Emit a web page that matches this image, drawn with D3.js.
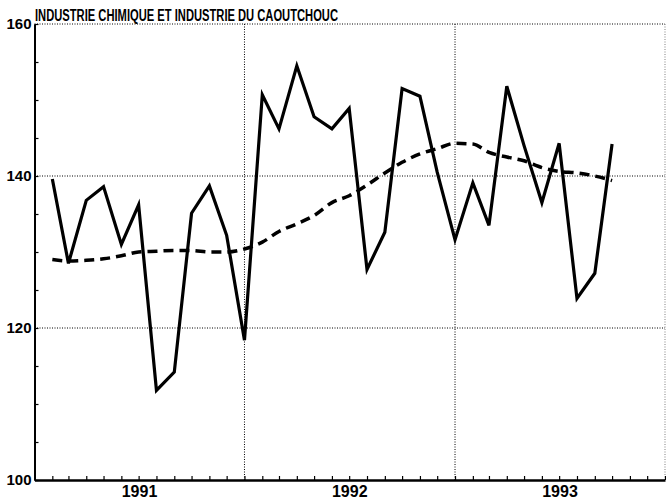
<!DOCTYPE html>
<html>
<head>
<meta charset="utf-8">
<script src="https://cdn.jsdelivr.net/npm/d3@7/dist/d3.min.js"></script>
<style>
  html, body { margin: 0; padding: 0; background: #fff; }
  svg text { font-family: "Liberation Sans", Arial, sans-serif; font-weight: bold; fill: #000; }
</style>
</head>
<body>
<div id="chart"></div>
<script>
// titre et libellés
const title = "INDUSTRIE CHIMIQUE ET INDUSTRIE DU CAOUTCHOUC";
const yearLabels = ["1991", "1992", "1993"];
const yLabels = [100, 120, 140, 160];
const yGrid = [120, 140];

// mois des observations
const months = [
  "1991-02", "1991-03", "1991-04", "1991-05", "1991-06", "1991-07", "1991-08", "1991-09", "1991-10", "1991-11", "1991-12",
  "1992-01", "1992-02", "1992-03", "1992-04", "1992-05", "1992-06", "1992-07", "1992-08", "1992-09", "1992-10", "1992-11", "1992-12",
  "1993-01", "1993-02", "1993-03", "1993-04", "1993-05", "1993-06", "1993-07", "1993-08", "1993-09", "1993-10"
];

// série brute (trait plein)
const rawValues = [
  139.6, 128.5, 136.8, 138.6, 131.0, 136.2, 111.8, 114.2, 135.1, 138.7, 132.2,
  118.4, 150.7, 146.2, 154.5, 147.8, 146.2, 148.9, 127.7, 132.6, 151.5, 150.5, 140.5,
  131.6, 139.1, 133.5, 151.8, 144.0, 136.5, 144.3, 123.9, 127.2, 144.2
];

// tendance (tirets)
const trendValues = [
  129.0, 128.8, 128.9, 129.1, 129.5, 130.0, 130.1, 130.2, 130.2, 130.0, 130.0,
  130.4, 131.3, 132.7, 133.7, 134.8, 136.5, 137.4, 138.8, 140.4, 141.8, 142.9, 143.6,
  144.3, 144.2, 143.1, 142.5, 142.0, 141.1, 140.6, 140.4, 140.0, 139.4
];

const W = 666, H = 502;
const mLeft = 34.5, mRight = 665, mTop = 24, mBottom = 480;

const parseMonth = d3.timeParse("%Y-%m");
const parseYear = d3.timeParse("%Y");
const dates = months.map(parseMonth);

const x = d3.scaleTime()
  .domain([parseYear("1991"), parseYear("1994")])
  .range([mLeft, mRight]);
const y = d3.scaleLinear()
  .domain([100, 160])
  .range([mBottom, mTop]);

const svg = d3.select("#chart").append("svg")
  .attr("width", W)
  .attr("height", H);

// grille pointillée
const grid = svg.append("g")
  .attr("stroke", "#000")
  .attr("stroke-width", 1)
  .attr("stroke-dasharray", "1,1.5");

grid.selectAll("line.h")
  .data(yGrid.concat([160]))
  .enter().append("line")
  .attr("class", "h")
  .attr("x1", mLeft).attr("x2", mRight)
  .attr("y1", d => y(d)).attr("y2", d => y(d));

const yearBounds = x.ticks(d3.timeYear.every(1)).filter(d => +d > +x.domain()[0] && +d < +x.domain()[1]);
grid.selectAll("line.v")
  .data(yearBounds)
  .enter().append("line")
  .attr("class", "v")
  .attr("x1", d => x(d)).attr("x2", d => x(d))
  .attr("y1", mTop).attr("y2", mBottom);

// bord droit
grid.append("line")
  .attr("x1", mRight).attr("x2", mRight)
  .attr("y1", mTop).attr("y2", mBottom)
  .attr("stroke-opacity", 0.5);

// axe X : graduations mensuelles vers l'intérieur
const xAxis = svg.append("g")
  .attr("transform", `translate(0,${mBottom})`)
  .call(d3.axisBottom(x).ticks(d3.timeMonth.every(1)).tickSize(-4).tickSizeOuter(0).tickFormat(""));
xAxis.select(".domain").attr("stroke-width", 2.5);
xAxis.selectAll(".tick line").attr("stroke-width", 1.2);

// libellés des années (milieu de l'année)
svg.append("g").selectAll("text")
  .data(yearLabels)
  .enter().append("text")
  .attr("x", d => (x(parseYear(d)) + x(d3.timeYear.offset(parseYear(d), 1))) / 2)
  .attr("y", 497)
  .attr("text-anchor", "middle")
  .style("font-size", "16px")
  .text(d => d);

// axe Y : petites graduations tous les 5
const yAxis = svg.append("g")
  .attr("transform", `translate(${mLeft},0)`)
  .call(d3.axisLeft(y).ticks(12).tickSize(-4).tickSizeOuter(0).tickFormat(""));
yAxis.select(".domain").attr("stroke-width", 2);
yAxis.selectAll(".tick line").attr("stroke-width", 1.2);

svg.append("g").selectAll("text")
  .data(yLabels)
  .enter().append("text")
  .attr("x", mLeft - 3)
  .attr("y", d => y(d))
  .attr("dy", "0.36em")
  .attr("text-anchor", "end")
  .style("font-size", "15px")
  .text(d => d);

// titre
svg.append("text")
  .attr("x", 35)
  .attr("y", 21)
  .attr("textLength", 303)
  .attr("lengthAdjust", "spacingAndGlyphs")
  .style("font-size", "16px")
  .text(title);

// courbes
const lineRaw = d3.line()
  .x((d, i) => x(dates[i]))
  .y(d => y(d));
const lineTrend = d3.line()
  .x((d, i) => x(dates[i]))
  .y(d => y(d))
  .curve(d3.curveMonotoneX);

svg.append("path")
  .datum(trendValues)
  .attr("d", lineTrend)
  .attr("fill", "none")
  .attr("stroke", "#000")
  .attr("stroke-width", 3.5)
  .attr("stroke-dasharray", "10,6");

svg.append("path")
  .datum(rawValues)
  .attr("d", lineRaw)
  .attr("fill", "none")
  .attr("stroke", "#000")
  .attr("stroke-width", 3.2)
  .attr("stroke-linejoin", "miter");
</script>
</body>
</html>
